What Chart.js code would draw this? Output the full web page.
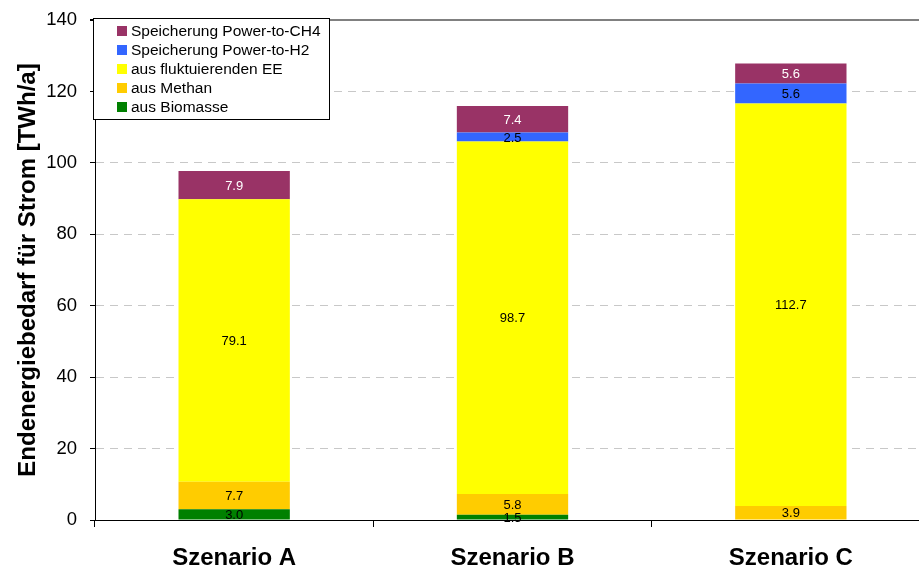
<!DOCTYPE html>
<html>
<head>
<meta charset="utf-8">
<script src="https://cdn.jsdelivr.net/npm/chart.js@4/dist/chart.umd.min.js"></script>
<style>
  html, body { margin: 0; padding: 0; background: #fff; overflow: hidden; }
  #wrap { width: 935px; height: 568px; }
</style>
</head>
<body>
<div id="wrap"><canvas id="chart" width="935" height="568"></canvas></div>
<script>
const scenarios = ['Szenario A', 'Szenario B', 'Szenario C'];

// TWh/a per scenario, bottom to top of each stack
const biomasse = [3.0, 1.5, 0];
const methan = [7.7, 5.8, 3.9];
const fluktuierendeEE = [79.1, 98.7, 112.7];
const powerToH2 = [0, 2.5, 5.6];
const powerToCH4 = [7.9, 7.4, 5.6];

const yTicks = [0, 20, 40, 60, 80, 100, 120, 140];

const font = "'Liberation Sans', Arial, sans-serif";

const datasets = [
  { label: 'aus Biomasse', data: biomasse, backgroundColor: '#008000', textColor: '#000' },
  { label: 'aus Methan', data: methan, backgroundColor: '#FFCC00', textColor: '#000' },
  { label: 'aus fluktuierenden EE', data: fluktuierendeEE, backgroundColor: '#FFFF00', textColor: '#000' },
  { label: 'Speicherung Power-to-H2', data: powerToH2, backgroundColor: '#3366FF', textColor: '#000' },
  { label: 'Speicherung Power-to-CH4', data: powerToCH4, backgroundColor: '#993366', textColor: '#fff' }
];

// value labels in the middle of each segment
const segmentLabels = {
  id: 'segmentLabels',
  afterDatasetsDraw(chart) {
    const ctx = chart.ctx;
    ctx.save();
    ctx.font = '13px ' + font;
    ctx.textAlign = 'center';
    ctx.textBaseline = 'middle';
    chart.data.datasets.forEach((ds, i) => {
      chart.getDatasetMeta(i).data.forEach((bar, j) => {
        const v = ds.data[j];
        if (!v) return;
        ctx.fillStyle = ds.textColor;
        ctx.fillText(v.toFixed(1), bar.x, (bar.y + bar.base) / 2 + 1);
      });
    });
    ctx.restore();
  }
};

// boxed legend sitting in the upper left corner of the plot
const boxLegend = {
  id: 'boxLegend',
  afterDraw(chart) {
    const ctx = chart.ctx;
    const x0 = 93, y0 = 18, w = 236, h = 101;
    ctx.save();
    ctx.fillStyle = '#fff';
    ctx.fillRect(x0, y0, w, h);
    ctx.strokeStyle = '#000';
    ctx.lineWidth = 1;
    ctx.strokeRect(x0 + 0.5, y0 + 0.5, w, h);
    ctx.font = '15.5px ' + font;
    ctx.textBaseline = 'middle';
    const items = chart.data.datasets.slice().reverse();
    items.forEach((ds, k) => {
      const cy = 31 + k * 19;
      ctx.fillStyle = ds.backgroundColor;
      ctx.fillRect(117, cy - 5, 10, 10);
      ctx.fillStyle = '#000';
      ctx.fillText(ds.label, 131, cy + 1);
    });
    ctx.restore();
  }
};

new Chart(document.getElementById('chart'), {
  type: 'bar',
  data: { labels: scenarios, datasets: datasets },
  options: {
    responsive: false,
    animation: false,
    layout: { padding: { top: 20, right: 5, left: 0, bottom: 0 } },
    datasets: { bar: { categoryPercentage: 1, barPercentage: 0.4 } },
    plugins: { legend: { display: false }, tooltip: { enabled: false } },
    scales: {
      x: {
        stacked: true,
        grid: { drawOnChartArea: false, offset: true, tickLength: 7, tickColor: '#000', tickWidth: 1 },
        border: { color: '#000', width: 1 },
        ticks: { color: '#000', font: { family: font, size: 24, weight: 'bold' }, padding: 17 },
        afterFit(scale) { scale.height = 48; scale.paddingLeft = 0; scale.paddingRight = 0; }
      },
      y: {
        stacked: true,
        min: 0,
        max: 140,
        afterBuildTicks(scale) { scale.ticks = yTicks.map(v => ({ value: v })); },
        grid: {
          color: c => c.tick && c.tick.value === 140 ? '#808080' : (c.tick && c.tick.value === 0 ? 'rgba(0,0,0,0)' : '#C8C8C8'),
          lineWidth: c => c.tick && c.tick.value === 140 ? 2 : 1,
          tickLength: 5,
          tickColor: '#000',
          tickBorderDash: []
        },
        border: {
          color: '#000',
          width: 1,
          dash: c => c.tick && c.tick.value === 140 ? [] : [8, 6]
        },
        ticks: { color: '#000', font: { family: font, size: 18.5 }, padding: 13 },
        title: {
          display: true,
          text: 'Endenergiebedarf für Strom [TWh/a]',
          color: '#000',
          font: { family: font, size: 24, weight: 'bold' },
          padding: { top: 14, bottom: 0 }
        },
        afterFit(scale) { scale.width = 95; scale.paddingTop = 0; scale.paddingBottom = 0; }
      }
    }
  },
  plugins: [segmentLabels, boxLegend]
});
</script>
</body>
</html>
